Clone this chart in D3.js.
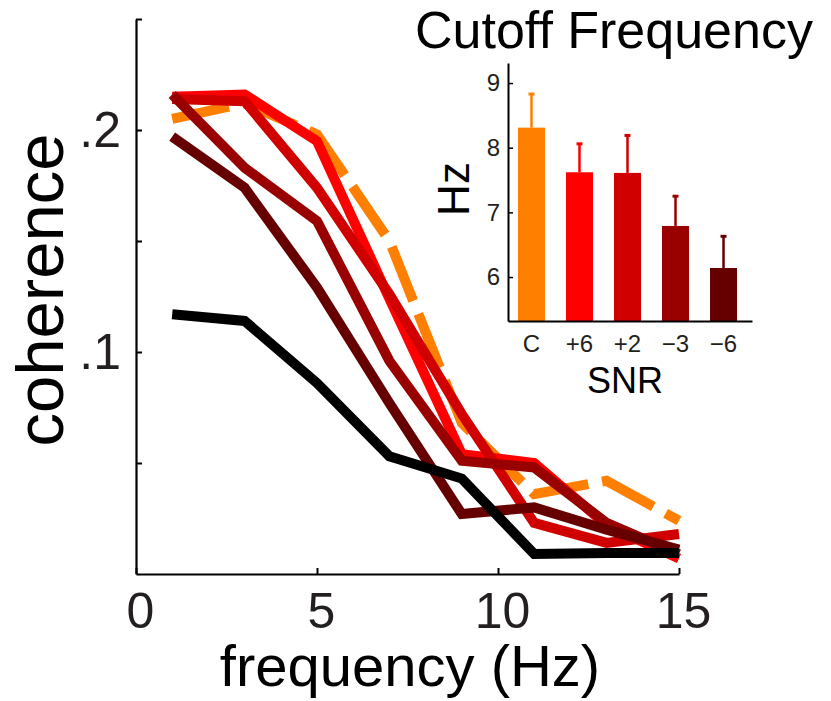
<!DOCTYPE html>
<html>
<head>
<meta charset="utf-8">
<script src="https://cdn.jsdelivr.net/npm/d3@7"></script>
<style>
  body { margin: 0; background: #fff; }
  svg text { font-family: "Liberation Sans", Arial, Helvetica, sans-serif; }
</style>
</head>
<body>
<div id="chart"></div>
<script>
// coherence spectra, one series per condition
let freqs = [1, 3, 5, 7, 9, 11, 13, 15];
let control = [0.205, 0.212, 0.198, 0.150, 0.068, 0.036, 0.042, 0.024];
let snrPlus6 = [0.215, 0.216, 0.195, 0.124, 0.054, 0.050, 0.022, 0.007];
let snrPlus2 = [0.214, 0.213, 0.174, 0.126, 0.072, 0.023, 0.014, 0.018];
let snrMinus3 = [0.216, 0.183, 0.159, 0.096, 0.051, 0.048, 0.023, 0.009];
let snrMinus6 = [0.197, 0.174, 0.129, 0.077, 0.027, 0.030, 0.020, 0.011];
let noise = [0.117, 0.114, 0.086, 0.053, 0.043, 0.009, 0.0095, 0.0095];

let yTickValues = [0.05, 0.1, 0.15, 0.2, 0.25];
let xTickValues = [0, 5, 10, 15];

// inset: cutoff frequency per SNR
let snrLabels = ["C", "+6", "+2", "\u22123", "\u22126"];
let cutoff = [8.31, 7.62, 7.61, 6.79, 6.14];
let cutoffErr = [0.52, 0.44, 0.58, 0.46, 0.49];
let insetTicks = [6, 7, 8, 9];

let colors = ["#ff7f00", "#ff0000", "#d10000", "#990000", "#660000"];

let series = [
    {values: control, color: colors[0], dashed: true},
    {values: snrPlus6, color: colors[1]},
    {values: snrPlus2, color: colors[2]},
    {values: snrMinus3, color: colors[3]},
    {values: snrMinus6, color: colors[4]},
    {values: noise, color: "#000000"}
];

let width = 831, height = 701;
let labelColor = "#231f20";

let svg = d3.select("#chart")
    .append("svg")
    .attr("width", width)
    .attr("height", height);

// main axes
let x = d3.scaleLinear()
    .domain([0, 15])
    .range([136, 679]);

let y = d3.scaleLinear()
    .domain([0, 0.25])
    .range([574, 19]);

let xAxis = svg.append("g")
    .attr("transform", "translate(0,574)")
    .call(d3.axisBottom(x)
        .tickValues(xTickValues)
        .tickSizeInner(-6)
        .tickSizeOuter(0)
        .tickPadding(18));

let yAxis = svg.append("g")
    .attr("transform", "translate(136,0)")
    .call(d3.axisLeft(y)
        .tickValues(yTickValues)
        .tickSizeInner(-6)
        .tickSizeOuter(0)
        .tickPadding(15)
        .tickFormat(function (d) {
            if (Math.abs(d - 0.1) < 1e-9) return ".1";
            if (Math.abs(d - 0.2) < 1e-9) return ".2";
            return "";
        }));

[xAxis, yAxis].forEach(function (g) {
    g.select(".domain").attr("stroke", "#000").attr("stroke-width", 2.2);
    g.selectAll(".tick line").attr("stroke", "#000").attr("stroke-width", 2);
    g.selectAll(".tick text")
        .attr("fill", labelColor)
        .style("font-size", "50px");
});
xAxis.selectAll(".tick text").attr("dx", 4);

let line = d3.line()
    .x(function (d, i) { return x(freqs[i]); })
    .y(function (d) { return y(d); });

svg.append("g")
    .selectAll("path")
    .data(series)
    .enter()
    .append("path")
    .attr("d", function (d) { return line(d.values); })
    .attr("fill", "none")
    .attr("stroke", function (d) { return d.color; })
    .attr("stroke-width", 10)
    .attr("stroke-linejoin", "miter")
    .attr("stroke-dasharray", function (d) { return d.dashed ? "58,14" : null; });

svg.append("text")
    .attr("x", 410)
    .attr("y", 686)
    .attr("text-anchor", "middle")
    .style("font-size", "58px")
    .text("frequency (Hz)");

svg.append("text")
    .attr("transform", "translate(63,290) rotate(-90)")
    .attr("text-anchor", "middle")
    .style("font-size", "67px")
    .text("coherence");

// inset bar chart
let xb = d3.scaleBand()
    .domain(snrLabels)
    .range([508, 752])
    .paddingInner(0.4375)
    .paddingOuter(0.26)
    .align(0.4);

let yb = d3.scaleLinear()
    .domain([5.32, 9.31])
    .range([321, 63]);

let inset = svg.append("g");

inset.selectAll("rect")
    .data(cutoff)
    .enter()
    .append("rect")
    .attr("x", function (d, i) { return xb(snrLabels[i]); })
    .attr("width", xb.bandwidth())
    .attr("y", function (d) { return yb(d); })
    .attr("height", function (d) { return yb.range()[0] - yb(d); })
    .attr("fill", function (d, i) { return colors[i]; });

inset.selectAll("line.err")
    .data(cutoff)
    .enter()
    .append("line")
    .attr("class", "err")
    .attr("x1", function (d, i) { return xb(snrLabels[i]) + xb.bandwidth() / 2; })
    .attr("x2", function (d, i) { return xb(snrLabels[i]) + xb.bandwidth() / 2; })
    .attr("y1", function (d) { return yb(d); })
    .attr("y2", function (d, i) { return yb(d + cutoffErr[i]); })
    .attr("stroke", function (d, i) { return colors[i]; })
    .attr("stroke-width", 2.5);

inset.selectAll("line.cap")
    .data(cutoff)
    .enter()
    .append("line")
    .attr("class", "cap")
    .attr("x1", function (d, i) { return xb(snrLabels[i]) + xb.bandwidth() / 2 - 3; })
    .attr("x2", function (d, i) { return xb(snrLabels[i]) + xb.bandwidth() / 2 + 3; })
    .attr("y1", function (d, i) { return yb(d + cutoffErr[i]); })
    .attr("y2", function (d, i) { return yb(d + cutoffErr[i]); })
    .attr("stroke", function (d, i) { return colors[i]; })
    .attr("stroke-width", 3);

let xbAxis = inset.append("g")
    .attr("transform", "translate(0,321)")
    .call(d3.axisBottom(xb).tickSize(0).tickPadding(14));

let ybAxis = inset.append("g")
    .attr("transform", "translate(508,0)")
    .call(d3.axisLeft(yb)
        .tickValues(insetTicks)
        .tickFormat(d3.format("d"))
        .tickSizeInner(-5)
        .tickSizeOuter(0)
        .tickPadding(8));

[xbAxis, ybAxis].forEach(function (g) {
    g.select(".domain").attr("stroke", "#000").attr("stroke-width", 2);
    g.selectAll(".tick line").attr("stroke", "#000").attr("stroke-width", 1.5);
    g.selectAll(".tick text")
        .attr("fill", labelColor)
        .style("font-size", "24px");
});

inset.append("text")
    .attr("x", 614)
    .attr("y", 48)
    .attr("text-anchor", "middle")
    .style("font-size", "52px")
    .text("Cutoff Frequency");

inset.append("text")
    .attr("x", 625)
    .attr("y", 393)
    .attr("text-anchor", "middle")
    .style("font-size", "36px")
    .text("SNR");

inset.append("text")
    .attr("transform", "translate(469,189) rotate(-90)")
    .attr("text-anchor", "middle")
    .style("font-size", "44px")
    .text("Hz");
</script>
</body>
</html>
